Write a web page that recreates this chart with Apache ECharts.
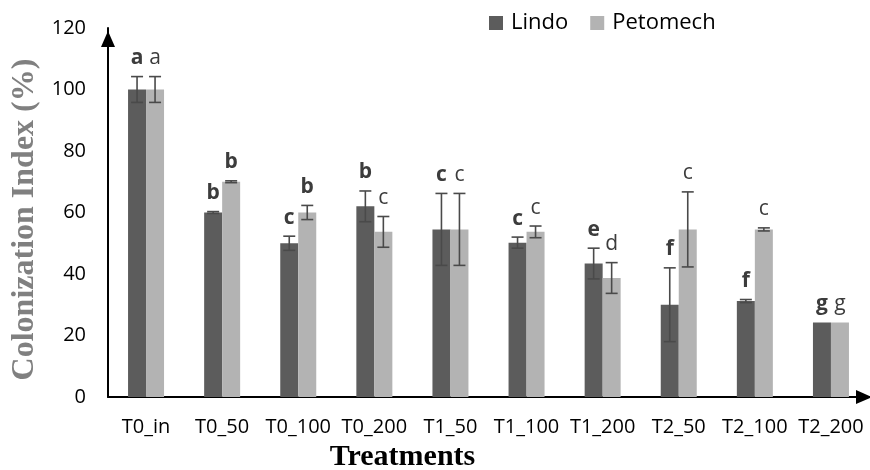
<!DOCTYPE html>
<html>
<head>
<meta charset="utf-8">
<script src="https://cdn.jsdelivr.net/npm/echarts@6/dist/echarts.min.js"></script>
<style>
  html, body { margin: 0; padding: 0; background: #fff; }
  #main { width: 870px; height: 470px; }
</style>
</head>
<body>
<div id="main"></div>
<script>
const categories = ['T0_in', 'T0_50', 'T0_100', 'T0_200', 'T1_50', 'T1_100', 'T1_200', 'T2_50', 'T2_100', 'T2_200'];
const lindo = [100, 60, 50, 62, 54.5, 50.2, 43.4, 30, 31.2, 24.2];
const lindoErr = [4.2, 0.3, 2.3, 5, 11.7, 1.8, 5, 12, 0.5, 0];
const petomech = [100, 70, 60, 53.7, 54.5, 53.7, 38.7, 54.5, 54.5, 24.2];
const petomechErr = [4.2, 0.3, 2.3, 5, 11.7, 1.9, 5, 12.2, 0.5, 0];
const lindoLetters = ['a', 'b', 'c', 'b', 'c', 'c', 'e', 'f', 'f', 'g'];
const petomechLetters = ['a', 'b', 'b', 'c', 'c', 'c', 'd', 'c', 'c', 'g'];
// which letters are printed in bold
const lindoBold = [1, 1, 1, 1, 1, 1, 1, 1, 1, 1];
const petomechBold = [0, 1, 1, 0, 0, 0, 0, 0, 0, 0];
const yTicks = [0, 20, 40, 60, 80, 100, 120];

const chart = echarts.init(document.getElementById('main'));

const BAR_W = 18;
const SANS = '"Open Sans", sans-serif';
const SERIF = '"Liberation Serif", "Times New Roman", serif';

// error bar + significance letter for one series
function errorRenderer(letters, bold, shift) {
  return function (params, api) {
    const i = api.value(0);
    const v = api.value(1);
    const e = api.value(2);
    const mid = api.coord([i, v]);
    const hi = api.coord([i, v + e]);
    const lo = api.coord([i, v - e]);
    const x = mid[0] + shift;
    const children = [];
    if (e > 0) {
      const st = { stroke: '#4a4a4a', lineWidth: 1.6 };
      children.push(
        { type: 'line', shape: { x1: x, y1: hi[1], x2: x, y2: lo[1] }, style: st },
        { type: 'line', shape: { x1: x - 6, y1: hi[1], x2: x + 6, y2: hi[1] }, style: st },
        { type: 'line', shape: { x1: x - 6, y1: lo[1], x2: x + 6, y2: lo[1] }, style: st }
      );
    }
    const k = params.dataIndex;
    children.push({
      type: 'text',
      style: {
        text: letters[k],
        x: x,
        y: hi[1] - 8,
        align: 'center',
        verticalAlign: 'bottom',
        fontSize: 21,
        fontWeight: bold[k] ? 'bold' : 'normal',
        fontFamily: SANS,
        fill: '#3c3c3c'
      }
    });
    return { type: 'group', children: children };
  };
}

function arrowLine(back) {
  return {
    show: true,
    lineStyle: { color: '#000', width: 2 },
    symbol: ['none', 'triangle'],
    symbolSize: [14, 16],
    symbolOffset: [0, back]
  };
}

const option = {
  animation: false,
  backgroundColor: '#fff',
  legend: {
    data: ['Lindo', 'Petomech'],
    left: 484,
    top: 7,
    icon: 'rect',
    itemWidth: 14,
    itemHeight: 14,
    itemGap: 22,
    textStyle: { fontSize: 22, color: '#000', fontFamily: SANS, padding: [0, 0, 0, 3] }
  },
  grid: { left: 108, right: 1, top: 28, bottom: 73, outerBoundsMode: 'none' },
  xAxis: {
    type: 'category',
    data: categories,
    name: 'Treatments',
    nameLocation: 'middle',
    nameGap: 41,
    nameTextStyle: {
      fontFamily: SERIF,
      fontWeight: 'bold',
      fontSize: 30,
      color: '#000',
      padding: [0, 172, 0, 0]
    },
    axisLine: arrowLine(-5),
    axisTick: { show: false },
    axisLabel: { fontSize: 20, color: '#000', fontFamily: SANS, margin: 20, interval: 0 }
  },
  yAxis: {
    type: 'value',
    min: yTicks[0],
    max: yTicks[yTicks.length - 1],
    interval: yTicks[1] - yTicks[0],
    name: 'Colonization Index (%)',
    nameLocation: 'middle',
    nameGap: 66,
    nameTextStyle: {
      fontFamily: SERIF,
      fontWeight: 'bold',
      fontSize: 32,
      color: '#808080',
      padding: [0, 14, 0, 0]
    },
    axisLine: arrowLine(-11),
    axisTick: { show: false },
    splitLine: { show: false },
    axisLabel: { fontSize: 20, color: '#000', fontFamily: SANS, margin: 22 }
  },
  series: [
    {
      name: 'Lindo',
      type: 'bar',
      data: lindo,
      barWidth: BAR_W,
      barGap: '0%',
      itemStyle: { color: '#5c5c5c' }
    },
    {
      name: 'Petomech',
      type: 'bar',
      data: petomech,
      barWidth: BAR_W,
      barGap: '0%',
      itemStyle: { color: '#b3b3b3' }
    },
    {
      type: 'custom',
      renderItem: errorRenderer(lindoLetters, lindoBold, -BAR_W / 2),
      data: lindo.map((v, i) => [i, v, lindoErr[i]]),
      z: 10
    },
    {
      type: 'custom',
      renderItem: errorRenderer(petomechLetters, petomechBold, BAR_W / 2),
      data: petomech.map((v, i) => [i, v, petomechErr[i]]),
      z: 10
    }
  ]
};

chart.setOption(option);
</script>
</body>
</html>
